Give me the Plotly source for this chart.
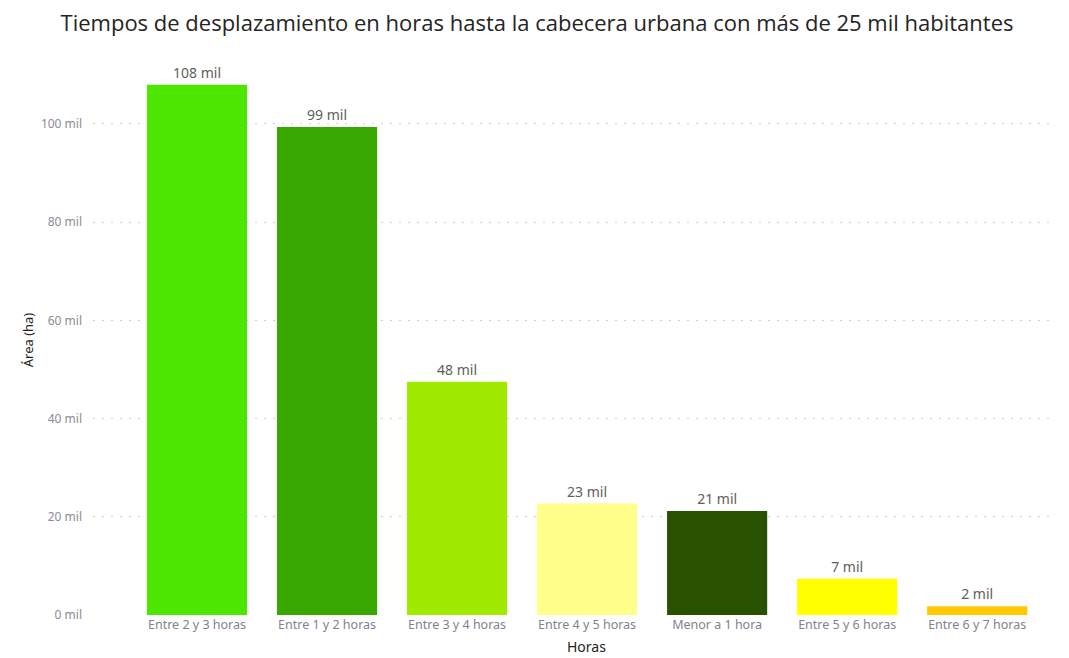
import plotly.graph_objects as go

categories = ["Entre 2 y 3 horas", "Entre 1 y 2 horas", "Entre 3 y 4 horas",
              "Entre 4 y 5 horas", "Menor a 1 hora", "Entre 5 y 6 horas",
              "Entre 6 y 7 horas"]
area_mil = [108.0, 99.4, 47.5, 22.7, 21.2, 7.4, 1.8]
colors = ["#4CE600", "#38A800", "#9FEA00", "#FFFF8A", "#285200", "#FFFF00", "#FFC800"]
y_ticks = [0, 20, 40, 60, 80, 100]
y_tick_text = ["0 mil", "20 mil", "40 mil", "60 mil", "80 mil", "100 mil"]

labels = [f"{round(v)} mil" for v in area_mil]

fig = go.Figure(go.Bar(
    x=categories, y=area_mil, marker=dict(color=colors, line=dict(width=0)),
    text=labels, textposition="outside", cliponaxis=False,
    textfont=dict(family="Noto Sans", size=14, color="#605E5C"),
))

fig.update_layout(
    width=1061, height=650,
    margin=dict(l=85, r=19, t=57, b=43),
    paper_bgcolor="white", plot_bgcolor="white",
    bargap=0.23,
    showlegend=False,
    title=dict(text="Tiempos de desplazamiento en horas hasta la cabecera urbana con más de 25 mil habitantes",
               x=0.4986, xanchor="center", xref="container", y=0.976, yanchor="middle",
               font=dict(family="Open Sans", size=22, color="#252423")),
    xaxis=dict(range=[-0.8, 6.56], showgrid=False, showline=False, ticks="",
               tickfont=dict(family="Noto Sans", size=12.5, color="#7F8290")),
    yaxis=dict(range=[0, 112], tickvals=y_ticks, ticktext=y_tick_text,
               showgrid=True, gridcolor="#d0d0d0", griddash="2px,7px", gridwidth=1,
               zeroline=False, showline=False, ticks="", ticklabelstandoff=10,
               tickfont=dict(family="Noto Sans", size=12, color="#8A8C96"),
               title=dict(text="Área (ha)", standoff=4,
                          font=dict(family="Noto Sans", size=13, color="#252423"))),
    annotations=[dict(text="Horas", xref="paper", yref="paper", x=0.516, y=-0.057,
                      xanchor="center", yanchor="middle", showarrow=False,
                      font=dict(family="Noto Sans", size=14, color="#252423"))],
)

fig.write_html("out.html")
